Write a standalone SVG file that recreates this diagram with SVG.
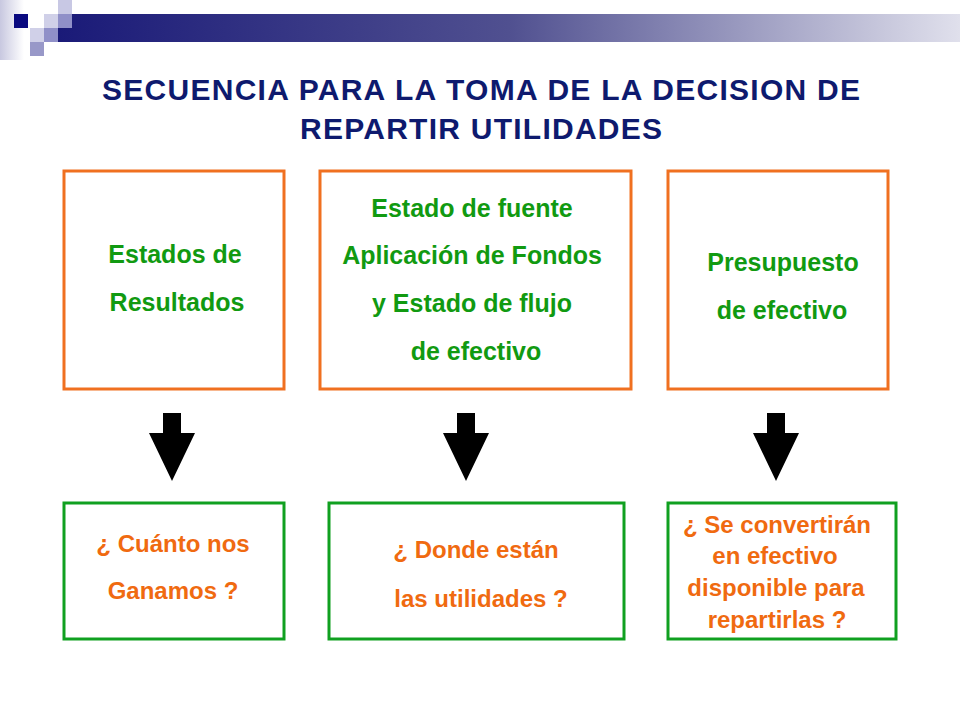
<svg xmlns="http://www.w3.org/2000/svg" width="960" height="720" viewBox="0 0 960 720">
<defs>
<linearGradient id="bar" x1="0" x2="1" y1="0" y2="0"><stop offset="0" stop-color="#1a1a78"/><stop offset="0.5" stop-color="#505090"/><stop offset="1" stop-color="#e0e0ec"/></linearGradient>
<linearGradient id="side" x1="0" x2="1"><stop offset="0" stop-color="#c8c8e0"/><stop offset="1" stop-color="#ffffff"/></linearGradient>
</defs>
<style>
.o{fill:#fff;stroke:#f07020;stroke-width:3}
.g{fill:#fff;stroke:#10a020;stroke-width:3}
.t{font-family:"Liberation Sans",Arial,sans-serif;font-weight:bold;font-size:25px;fill:#119a11;text-anchor:middle}
.b{font-family:"Liberation Sans",Arial,sans-serif;font-weight:bold;font-size:24px;fill:#f06a10;text-anchor:middle}
.h{font-family:"Liberation Sans",Arial,sans-serif;font-weight:bold;font-size:30px;fill:#0e1a6e;text-anchor:middle}
</style>
<rect width="960" height="720" fill="#fff"/>
<rect x="0" y="0" width="24" height="60" fill="url(#side)"/>
<rect x="58" y="14" width="902" height="28" fill="url(#bar)"/>
<rect x="14" y="14" width="14" height="14" fill="#0a0a80"/>
<rect x="58" y="0" width="14" height="14" fill="#c8c8e4"/>
<rect x="44" y="14" width="14" height="14" fill="#d0d0e8"/>
<rect x="58" y="14" width="14" height="14" fill="#9090c8"/>
<rect x="30" y="28" width="14" height="14" fill="#d0d0e8"/>
<rect x="44" y="28" width="14" height="14" fill="#9090c8"/>
<rect x="30" y="42" width="14" height="14" fill="#9898c8"/>
<text class="h" x="481" y="100" textLength="758" lengthAdjust="spacing">SECUENCIA PARA LA TOMA DE LA DECISION DE</text>
<text class="h" x="481" y="139" textLength="362" lengthAdjust="spacing">REPARTIR UTILIDADES</text>
<g id="n1"><rect class="o" x="64" y="171" width="220" height="218"/><text class="t" x="175" y="263">Estados de</text><text class="t" x="177" y="311">Resultados</text></g>
<g id="n2"><rect class="o" x="320" y="171" width="311" height="218"/><text class="t" x="472" y="217">Estado de fuente</text><text class="t" x="472" y="264">Aplicación de Fondos</text><text class="t" x="472" y="312">y Estado de flujo</text><text class="t" x="476" y="360">de efectivo</text></g>
<g id="n3"><rect class="o" x="668" y="171" width="220" height="218"/><text class="t" x="783" y="271">Presupuesto</text><text class="t" x="782" y="319">de efectivo</text></g>
<g id="n4"><rect class="g" x="64" y="503" width="220" height="136"/><text class="b" x="173" y="552">¿ Cuánto nos</text><text class="b" x="173" y="599">Ganamos ?</text></g>
<g id="n5"><rect class="g" x="329" y="503" width="295" height="136"/><text class="b" x="476" y="558">¿ Donde están</text><text class="b" x="481" y="607">las utilidades ?</text></g>
<g id="n6"><rect class="g" x="668" y="503" width="228" height="136"/><text class="b" x="777" y="533">¿ Se convertirán</text><text class="b" x="775" y="564">en efectivo</text><text class="b" x="776" y="596">disponible para</text><text class="b" x="777" y="628">repartirlas ?</text></g>
<g id="connectors" fill="#000">
<polygon points="163,413 181,413 181,433 195,433 172,481 149,433 163,433"/>
<polygon points="457,413 475,413 475,433 489,433 466,481 443,433 457,433"/>
<polygon points="767,413 785,413 785,433 799,433 776,481 753,433 767,433"/>
</g>
</svg>
